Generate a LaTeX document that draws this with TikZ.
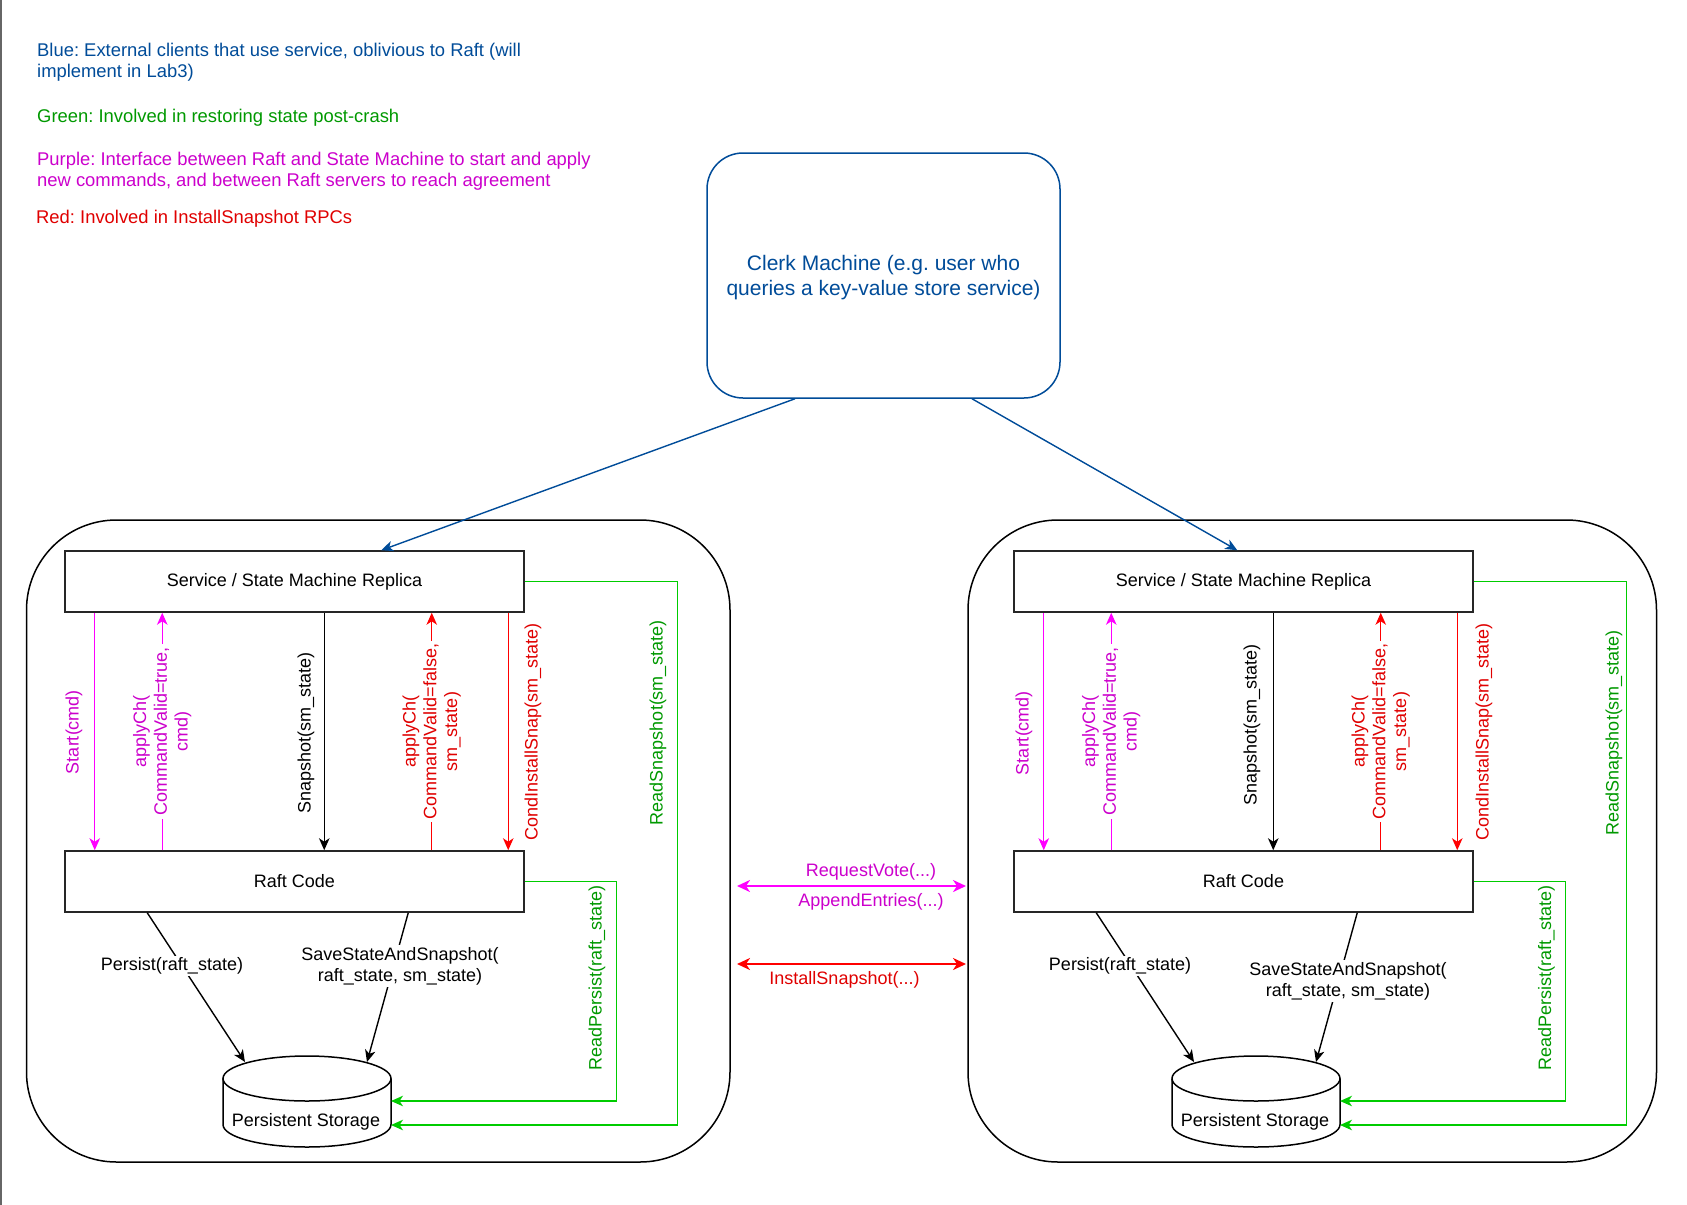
\documentclass[tikz,border=0pt]{standalone}
\usepackage{fontspec}
\setmainfont{Liberation Sans}
\usetikzlibrary{arrows.meta,calc}
\definecolor{cblue}{HTML}{004C99}
\definecolor{cgreenl}{HTML}{00CC00}
\definecolor{cgreent}{HTML}{009900}
\definecolor{cmagl}{HTML}{FF00FF}
\definecolor{cmagt}{HTML}{CC00CC}
\definecolor{credl}{HTML}{FF0000}
\definecolor{credt}{HTML}{E00000}
\frenchspacing
\begin{document}
\begin{tikzpicture}[x=1pt,y=-1pt,
  every node/.style={font=\fontsize{18}{20.7}\selectfont, inner sep=0pt},
  tip/.style={-{Stealth[length=12pt,width=10.5pt,inset=3.5pt]}},
  dtip/.style={{Stealth[length=13pt,width=12pt,inset=4pt]}-{Stealth[length=13pt,width=12pt,inset=4pt]}},
  conn/.style={line width=1.4pt},
  box/.style={draw=black!85, line width=1.5pt, minimum width=459pt, minimum height=61pt},
  panel/.style={draw=black, line width=1.5pt, rounded corners=90pt},
  vlab/.style={rotate=90, align=center},
  onlab/.style={rotate=90, align=center, fill=white, inner sep=3pt},
  hlab/.style={align=center, fill=white, inner sep=2pt},
  cyl/.style={line width=1.5pt},
  legend/.style={anchor=west, align=left, font=\fontsize{18.4}{21}\selectfont}
]
\useasboundingbox (0,0) rectangle (1687,1205);
\fill[white] (0,0) rectangle (1687,1205);
\fill[black!60] (0,0) rectangle (2,1205);

% legend
\node[legend, text=cblue] (lg1) at (37,62.5) {Blue: External clients that use service, oblivious to Raft (will\\implement in Lab3)};
\node[legend, text=cgreent] (lg2) at (37,118) {Green: Involved in restoring state post-crash};
\node[legend, text=cmagt] (lg3) at (37,171) {Purple: Interface between Raft and State Machine to start and apply\\new commands, and between Raft servers to reach agreement};
\node[legend, text=credt] (lg4) at (36,219) {Red: Involved in InstallSnapshot RPCs};

% clerk
\node[draw=cblue, line width=1.5pt, rounded corners=36pt, minimum width=353pt, minimum height=245pt] (clerk) at (883.5,275.5) {};
\node[align=center, text=cblue, font=\fontsize{21}{25}\selectfont] (clerkt) at (883.5,278)
      {Clerk Machine (e.g. user who\\queries a key-value store service)};

% panels
\node[panel, minimum width=703.5pt, minimum height=642pt] (lp) at (378.25,841) {};
\node[panel, minimum width=688.5pt, minimum height=642pt] (rp) at (1312.25,841) {};

% ================= left panel =================
\node[box] (ls) at (294.5,581.5) {Service / State Machine Replica};
\node[box] (lr) at (294.5,881.5) {Raft Code};
\draw[cyl, fill=white] (223,1078.5) -- (223,1124.5) arc[start angle=180, end angle=360, x radius=84pt, y radius=22.5pt] -- (391,1078.5);
\draw[cyl] (307,1078.5) ellipse [x radius=84pt, y radius=22.5pt];
\node (lpst) at (306,1122) {Persistent Storage};
\coordinate (lc1) at (391,1101);
\coordinate (lc2) at (391,1125);
\coordinate (lc3) at (245,1062);
\coordinate (lc4) at (367,1062);

\draw[conn, tip, cmagl] ($(ls.south west)+(30.5,0)$) -- ($(lr.north west)+(30.5,0)$);
\node[vlab, text=cmagt] (lstart) at (74,732) {Start(cmd)};
\draw[conn, tip, cmagl] ($(lr.north west)+(98,0)$) -- ($(ls.south west)+(98,0)$)
   node[midway, onlab, text=cmagt] (lapt) {applyCh(\\CommandValid=true,\\cmd)};
\draw[conn, tip, black] ($(ls.south west)+(260,0)$) -- ($(lr.north west)+(260,0)$);
\node[vlab] (lsnap) at (306,733) {Snapshot(sm\_state)};
\draw[conn, tip, credl] ($(lr.north west)+(367.5,0)$) -- ($(ls.south west)+(367.5,0)$)
   node[midway, onlab, text=credt] (lapf) {applyCh(\\CommandValid=false,\\sm\_state)};
\draw[conn, tip, credl] ($(ls.south west)+(444,0)$) -- ($(lr.north west)+(444,0)$);
\node[vlab, text=credt] (lcis) at (533,732) {CondInstallSnap(sm\_state)};

\draw[conn, tip, cgreenl] (ls.east) -- ++(153,0) |- (lc2);
\node[vlab, text=cgreent] (lrs) at (658,723) {ReadSnapshot(sm\_state)};
\draw[conn, tip, cgreenl] (lr.east) -- ++(92,0) |- (lc1);
\node[vlab, text=cgreent] (lrp) at (597,978) {ReadPersist(raft\_state)};

\draw[conn, tip, black] ($(lr.south west)+(83,0)$) -- (lc3);
\draw[conn, tip, black] ($(lr.south west)+(344,0)$) -- (lc4);
\node[hlab] (lper) at (172,966) {Persist(raft\_state)};
\node[hlab] (lsave) at (400,966) {SaveStateAndSnapshot(\\raft\_state, sm\_state)};

% ================= right panel =================
\node[box] (rs) at (1243.5,581.5) {Service / State Machine Replica};
\node[box] (rr) at (1243.5,881.5) {Raft Code};
\draw[cyl, fill=white] (1172,1078.5) -- (1172,1124.5) arc[start angle=180, end angle=360, x radius=84pt, y radius=22.5pt] -- (1340,1078.5);
\draw[cyl] (1256,1078.5) ellipse [x radius=84pt, y radius=22.5pt];
\node (rpst) at (1255,1122) {Persistent Storage};
\coordinate (rc1) at (1340,1101);
\coordinate (rc2) at (1340,1125);
\coordinate (rc3) at (1194,1062);
\coordinate (rc4) at (1316,1062);

\draw[conn, tip, cmagl] ($(rs.south west)+(30.5,0)$) -- ($(rr.north west)+(30.5,0)$);
\node[vlab, text=cmagt] (rstart) at (1024,733) {Start(cmd)};
\draw[conn, tip, cmagl] ($(rr.north west)+(98,0)$) -- ($(rs.south west)+(98,0)$)
   node[midway, onlab, text=cmagt] (rapt) {applyCh(\\CommandValid=true,\\cmd)};
\draw[conn, tip, black] ($(rs.south west)+(260,0)$) -- ($(rr.north west)+(260,0)$);
\node[vlab] (rsnap) at (1252,725) {Snapshot(sm\_state)};
\draw[conn, tip, credl] ($(rr.north west)+(367.5,0)$) -- ($(rs.south west)+(367.5,0)$)
   node[midway, onlab, text=credt] (rapf) {applyCh(\\CommandValid=false,\\sm\_state)};
\draw[conn, tip, credl] ($(rs.south west)+(444,0)$) -- ($(rr.north west)+(444,0)$);
\node[vlab, text=credt] (rcis) at (1484,732) {CondInstallSnap(sm\_state)};

\draw[conn, tip, cgreenl] (rs.east) -- ++(153,0) |- (rc2);
\node[vlab, text=cgreent] (rrs) at (1614,733) {ReadSnapshot(sm\_state)};
\draw[conn, tip, cgreenl] (rr.east) -- ++(92,0) |- (rc1);
\node[vlab, text=cgreent] (rrp) at (1546.5,978) {ReadPersist(raft\_state)};

\draw[conn, tip, black] ($(rr.south west)+(83,0)$) -- (rc3);
\draw[conn, tip, black] ($(rr.south west)+(344,0)$) -- (rc4);
\node[hlab] (rper) at (1120,966) {Persist(raft\_state)};
\node[hlab] (rsave) at (1348,981) {SaveStateAndSnapshot(\\raft\_state, sm\_state)};

% ================= clerk connectors =================
\draw[conn, tip, cblue] ($(clerk.south)+(-88.5,0)$) -- ($(ls.north west)+(317,0)$);
\draw[conn, tip, cblue] ($(clerk.south)+(88.5,0)$) -- ($(rs.north west)+(224,0)$);

% ================= inter-server RPCs =================
\coordinate (m1) at (737,886);
\coordinate (m2) at (966,886);
\coordinate (m3) at (737,964);
\coordinate (m4) at (966,964);
\draw[dtip, cmagl, line width=2.4pt] (m1) -- (m2);
\draw[dtip, credl, line width=2.4pt] (m3) -- (m4);
\node[text=cmagt] (rv) at (871,872) {RequestVote(...)};
\node[text=cmagt] (ae) at (871,902) {AppendEntries(...)};
\node[text=credt] (is) at (844.5,980) {InstallSnapshot(...)};
\end{tikzpicture}
\end{document}
